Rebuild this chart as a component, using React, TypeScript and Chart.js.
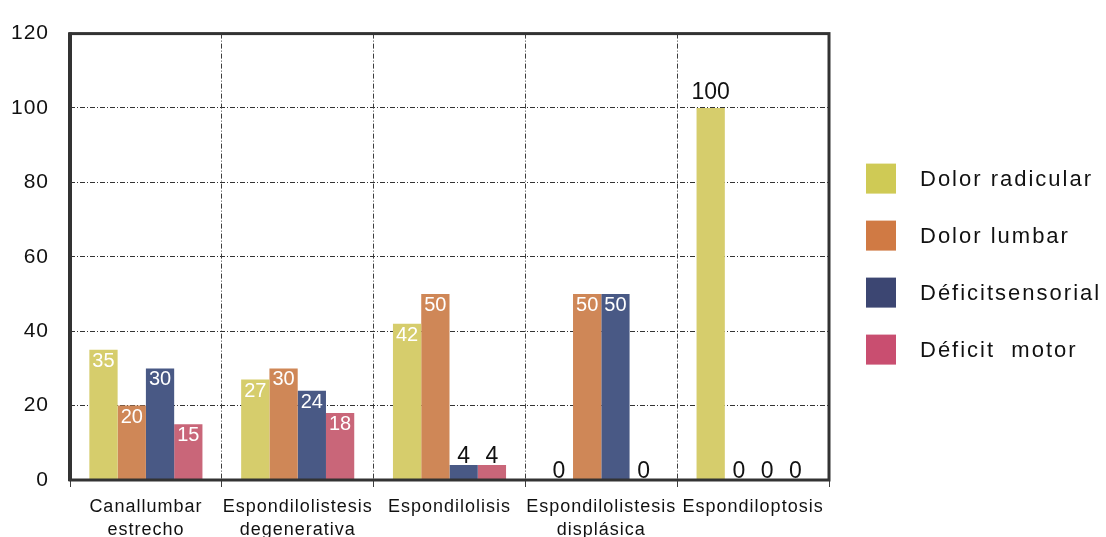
import React, { useEffect, useRef } from "react";
import { Chart, registerables } from "chart.js";

Chart.register(...registerables);

// Categories (multi-line tick labels)
const categories: string[][] = [
  ["Canallumbar", "estrecho"],
  ["Espondilolistesis", "degenerativa"],
  ["Espondilolisis"],
  ["Espondilolistesis", "displásica"],
  ["Espondiloptosis"],
];

const seriesNames: string[] = [
  "Dolor radicular",
  "Dolor lumbar",
  "Déficitsensorial",
  "Déficit  motor",
];

// Percent of patients per symptom
const dolorRadicular: number[] = [35, 27, 42, 0, 100];
const dolorLumbar: number[] = [20, 30, 50, 50, 0];
const deficitSensorial: number[] = [30, 24, 4, 50, 0];
const deficitMotor: number[] = [15, 18, 4, 0, 0];

const yMin = 0;
const yMax = 120;
const yStep = 20;

const barColors: string[] = ["#D6CD6C", "#CF8757", "#495985", "#C96679"];
const legendColors: string[] = ["#CFCA55", "#D07A44", "#3C4672", "#C94E70"];

const FONT = '"Liberation Sans", Arial, sans-serif';

// Global letter spacing for axis text
const spacingPlugin = {
  id: "spacing",
  beforeDraw(chart: any) {
    chart.ctx.letterSpacing = "1px";
  },
};

// Heavy frame around the plotting area
const framePlugin = {
  id: "frame",
  afterDatasetsDraw(chart: any) {
    const { ctx, chartArea: a } = chart;
    ctx.save();
    ctx.strokeStyle = "#333333";
    ctx.lineWidth = 3;
    ctx.strokeRect(a.left, a.top, a.right - a.left, a.bottom - a.top);
    ctx.lineWidth = 4;
    ctx.beginPath();
    ctx.moveTo(a.left, a.top - 1);
    ctx.lineTo(a.left, a.bottom + 1);
    ctx.stroke();
    ctx.restore();
  },
};

// Value labels: white inside tall bars, dark above short ones
const valueLabelPlugin = {
  id: "valueLabels",
  afterDatasetsDraw(chart: any) {
    const ctx = chart.ctx;
    chart.data.datasets.forEach((ds: any, di: number) => {
      const meta = chart.getDatasetMeta(di);
      meta.data.forEach((bar: any, i: number) => {
        const v = ds.data[i] as number;
        const inside = v >= 10 && v < 100;
        ctx.save();
        ctx.letterSpacing = "0px";
        ctx.textAlign = "center";
        ctx.textBaseline = "alphabetic";
        if (inside) {
          ctx.fillStyle = "#ffffff";
          ctx.font = `20px ${FONT}`;
          ctx.fillText(String(v), bar.x, bar.y + 17);
        } else {
          ctx.fillStyle = "#111111";
          ctx.font = `23px ${FONT}`;
          ctx.fillText(String(v), bar.x, bar.y - (v >= 100 ? 9 : 2));
        }
        ctx.restore();
      });
    });
  },
};

// Legend column to the right of the plot
const legendPlugin = {
  id: "sideLegend",
  afterDraw(chart: any) {
    const { ctx, chartArea: a } = chart;
    const x = a.right + 37;
    const gap = 57;
    const y0 = a.top + 145;
    ctx.save();
    ctx.letterSpacing = "2px";
    ctx.font = `22px ${FONT}`;
    ctx.textAlign = "left";
    ctx.textBaseline = "middle";
    chart.data.datasets.forEach((ds: any, i: number) => {
      const cy = y0 + i * gap;
      ctx.fillStyle = legendColors[i];
      ctx.fillRect(x, cy - 15, 30, 30);
      ctx.fillStyle = "#111111";
      ctx.fillText(ds.label, x + 54, cy + 1);
    });
    ctx.restore();
  },
};

export default function App() {
  const canvasRef = useRef<HTMLCanvasElement | null>(null);

  useEffect(() => {
    if (!canvasRef.current) return;
    const series = [dolorRadicular, dolorLumbar, deficitSensorial, deficitMotor];
    const chart = new Chart(canvasRef.current, {
      type: "bar",
      data: {
        labels: categories,
        datasets: series.map((d, i) => ({
          label: seriesNames[i],
          data: d,
          backgroundColor: barColors[i],
          borderWidth: 0,
          categoryPercentage: 0.745,
          barPercentage: 1,
        })),
      },
      options: {
        responsive: false,
        animation: false,
        events: [],
        layout: { padding: { left: 0, top: 30, right: 277, bottom: 0 } },
        plugins: {
          legend: { display: false },
          tooltip: { enabled: false },
        },
        scales: {
          x: {
            afterFit(scale: any) {
              scale.height = 57;
            },
            grid: {
              display: true,
              offset: true,
              color: "#3e3e3e",
              lineWidth: 1,
              tickLength: 7,
              tickColor: "#3e3e3e",
            },
            border: { display: false, dash: [5, 2, 1, 2] },
            ticks: {
              autoSkip: false,
              maxRotation: 0,
              minRotation: 0,
              padding: 8,
              color: "#111111",
              font: { family: FONT, size: 18, lineHeight: 1.3 },
            },
          },
          y: {
            min: yMin,
            max: yMax,
            afterFit(scale: any) {
              scale.width = 70;
            },
            grid: {
              display: true,
              color: "#333333",
              lineWidth: 1,
              drawTicks: false,
            },
            border: { display: false, dash: [5, 2, 1, 2] },
            ticks: {
              stepSize: yStep,
              padding: 21,
              color: "#111111",
              font: { family: FONT, size: 21 },
            },
          },
        },
      },
      plugins: [spacingPlugin, framePlugin, valueLabelPlugin, legendPlugin],
    });
    return () => chart.destroy();
  }, []);

  return (
    <div
      style={{
        position: "fixed",
        left: 0,
        top: 0,
        width: 1106,
        height: 537,
        background: "#ffffff",
      }}
    >
      <canvas ref={canvasRef} width={1106} height={537} style={{ display: "block" }} />
    </div>
  );
}
